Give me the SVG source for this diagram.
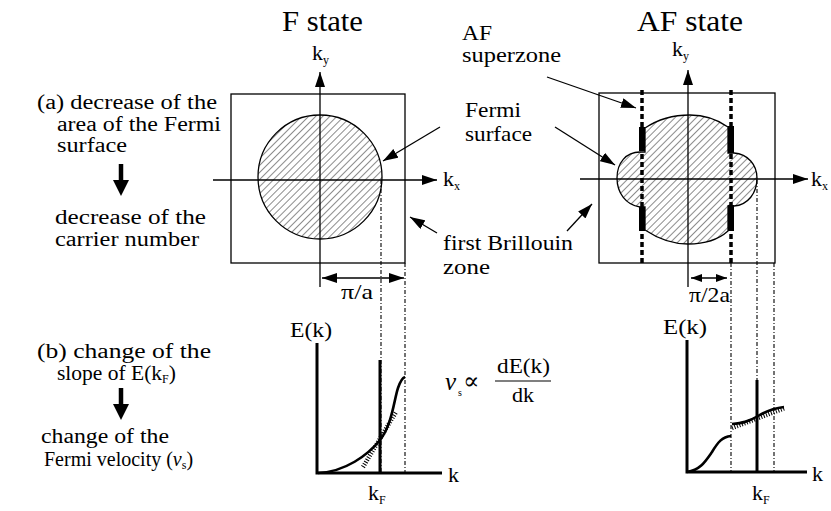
<svg xmlns="http://www.w3.org/2000/svg" width="831" height="511" viewBox="0 0 831 511" font-family="'Liberation Serif', 'Times New Roman', Tinos, 'Noto Serif', 'DejaVu Serif', FreeSerif, serif">
<style>
  text { font-family: 'Liberation Serif', 'Times New Roman', Tinos, 'Noto Serif', 'DejaVu Serif', FreeSerif, serif; fill: #000; }
  .lt { font-size: 20px; }
  .lb { font-size: 21px; }
  .ti { font-size: 29px; }
  .ax { font-size: 22px; }
  .sub { font-size: 12px; }
  .thin { stroke: #000; stroke-width: 1.3; fill: none; }
  .thick { stroke: #000; stroke-width: 3; fill: none; }
  .dd { stroke: #000; stroke-width: 1.1; fill: none; stroke-dasharray: 4 2 1 2; }
  .sz { stroke: #000; stroke-width: 3.5; fill: none; stroke-dasharray: 5 3; }
  .hat { stroke: #000; stroke-width: 4.5; fill: none; stroke-dasharray: 1 1.6; }
  .curve { stroke: #000; stroke-width: 2.6; fill: none; }
</style>
<defs>
  <pattern id="hatch" patternUnits="userSpaceOnUse" width="5" height="5" patternTransform="rotate(45)">
    <line x1="0" y1="0" x2="0" y2="5" stroke="#000" stroke-width="0.9"/>
  </pattern>
  <marker id="ah" markerUnits="userSpaceOnUse" markerWidth="16" markerHeight="10" refX="15" refY="5" orient="auto-start-reverse">
    <path d="M0,0 L15,5 L0,10 z" fill="#000"/>
  </marker>
  <marker id="ahs" markerUnits="userSpaceOnUse" markerWidth="12" markerHeight="8" refX="11" refY="4" orient="auto-start-reverse">
    <path d="M0,0 L11,4 L0,8 z" fill="#000"/>
  </marker>
  <marker id="big" markerUnits="userSpaceOnUse" markerWidth="16" markerHeight="16" refX="0" refY="8" orient="auto">
    <path d="M0,0 L16,8 L0,16 z" fill="#000"/>
  </marker>
</defs>

<!-- Titles -->
<g id="title-f"><text class="ti" x="282" y="31" textLength="81" lengthAdjust="spacingAndGlyphs">F state</text></g>
<g id="title-af"><text class="ti" x="637" y="31" textLength="106" lengthAdjust="spacingAndGlyphs">AF state</text></g>

<!-- Left texts -->
<g id="text-a">
  <text class="lt" x="37" y="109" textLength="180" lengthAdjust="spacingAndGlyphs">(a) decrease of the</text>
  <text class="lt" x="57" y="130.5" textLength="164" lengthAdjust="spacingAndGlyphs">area of the Fermi</text>
  <text class="lt" x="57" y="152" textLength="70" lengthAdjust="spacingAndGlyphs">surface</text>
  <text class="lt" x="55" y="224" textLength="151" lengthAdjust="spacingAndGlyphs">decrease of the</text>
  <text class="lt" x="55" y="246" textLength="144" lengthAdjust="spacingAndGlyphs">carrier number</text>
</g>
<g id="text-b">
  <text class="lt" x="37" y="358" textLength="174" lengthAdjust="spacingAndGlyphs">(b)  change of the</text>
  <text x="57" y="379.5" font-size="21.5">slope of E(k<tspan class="sub" dy="3">F</tspan><tspan dy="-3">)</tspan></text>
  <text class="lt" x="41" y="443" textLength="128" lengthAdjust="spacingAndGlyphs">change of the</text>
  <text x="44" y="466" font-size="20">Fermi velocity (<tspan font-style="italic">ν</tspan><tspan class="sub" dy="3">s</tspan><tspan dy="-3">)</tspan></text>
</g>

<!-- F state Brillouin zone -->
<g id="f-zone">
  <rect x="231" y="94" width="174" height="169" class="thin"/>
  <circle cx="320" cy="177" r="62" fill="url(#hatch)" stroke="#000" stroke-width="1.3"/>
  <text class="ax" x="312" y="60">k<tspan class="sub" dy="4">y</tspan></text>
  <text class="ax" x="443" y="186">k<tspan class="sub" dy="4">x</tspan></text>
</g>

<!-- AF state Brillouin zone -->
<g id="af-zone">
  <rect x="599" y="93" width="176" height="170" class="thin"/>
  <path d="M645,128 C660,118 675,115 690,115 C705,115 718,120 728,127 L728,153 L734,153 C748,154 757,165 757,178 C757,193 748,205 734,206 L728,206 L728,231 C718,240 703,244 688,244 C672,244 657,238 645,230 L645,207 L640,207 C626,205 617,193 617,178 C617,163 626,152 640,152 L645,152 Z" fill="url(#hatch)" stroke="#000" stroke-width="1.3"/>
  <rect x="639" y="127" width="6" height="24" fill="#000"/>
  <rect x="639" y="207" width="6" height="24" fill="#000"/>
  <rect x="728" y="126" width="6" height="27" fill="#000"/>
  <rect x="728" y="205" width="6" height="26" fill="#000"/>
  <line x1="642" y1="90" x2="642" y2="263" class="sz"/>
  <line x1="731" y1="90" x2="731" y2="263" class="sz"/>
  <text class="ax" x="672" y="56">k<tspan class="sub" dy="4">y</tspan></text>
  <text class="ax" x="811" y="186">k<tspan class="sub" dy="4">x</tspan></text>
</g>

<!-- Labels -->
<g id="label-superzone">
  <text class="lb" x="462" y="40" textLength="30" lengthAdjust="spacingAndGlyphs">AF</text>
  <text class="lb" x="462" y="62" textLength="99" lengthAdjust="spacingAndGlyphs">superzone</text>
</g>
<g id="label-fermi">
  <text class="lb" x="465" y="117" textLength="56" lengthAdjust="spacingAndGlyphs">Fermi</text>
  <text class="lb" x="465" y="141" textLength="67" lengthAdjust="spacingAndGlyphs">surface</text>
</g>
<g id="label-bz">
  <text class="lb" x="443" y="250" textLength="130" lengthAdjust="spacingAndGlyphs">first Brillouin</text>
  <text class="lb" x="443" y="274" textLength="47" lengthAdjust="spacingAndGlyphs">zone</text>
</g>
<g id="label-pia"><text class="lb" x="341" y="299" textLength="32" lengthAdjust="spacingAndGlyphs">π/a</text></g>
<g id="label-pi2a"><text class="lb" x="689" y="302" textLength="41" lengthAdjust="spacingAndGlyphs">π/2a</text></g>

<!-- F E(k) plot -->
<g id="f-ek">
  <text class="ax" x="290" y="337" textLength="42" lengthAdjust="spacingAndGlyphs">E(k)</text>
  <text class="ax" x="448" y="482">k</text>
  <text class="ax" x="368" y="500">k<tspan class="sub" dy="4">F</tspan></text>
  <path d="M318,473 C345,472 368,455 380,440 C392,425 394,400 398,388 C400,382 402,378 405,377" class="curve"/>
  <line x1="363" y1="467" x2="396" y2="412" class="hat"/>
</g>

<!-- formula -->
<g id="formula">
  <text x="445" y="390" font-size="25" font-style="italic">ν</text>
  <text x="458" y="396" font-size="10">s</text>
  <text x="463" y="389" font-size="24">∝</text>
  <text class="ax" x="497" y="373" textLength="53" lengthAdjust="spacingAndGlyphs">dE(k)</text>
  <line x1="495" y1="381" x2="551" y2="381" stroke="#000" stroke-width="1.2"/>
  <text class="ax" x="523" y="402" text-anchor="middle">dk</text>
</g>

<!-- AF E(k) plot -->
<g id="af-ek">
  <text class="ax" x="663" y="334" textLength="44" lengthAdjust="spacingAndGlyphs">E(k)</text>
  <text class="ax" x="812" y="481">k</text>
  <text class="ax" x="752" y="500">k<tspan class="sub" dy="4">F</tspan></text>
  <path d="M687,472 C700,470 705,462 712,452 C718,442 722,437 731,436" class="curve"/>
  <path d="M732,424 C742,423 748,422 758,416 C768,410 776,408 784,407" class="curve"/>
  <line x1="732" y1="428" x2="785" y2="408" class="hat"/>
</g>

<!-- Connectors -->
<g id="connectors">
  <line x1="320" y1="287" x2="320" y2="72" class="thin" marker-end="url(#ah)"/>
  <line x1="213" y1="180" x2="437" y2="180" class="thin" marker-end="url(#ah)"/>
  <line x1="688" y1="287" x2="688" y2="70" class="thin" marker-end="url(#ah)"/>
  <line x1="580" y1="179" x2="808" y2="179" class="thin" marker-end="url(#ah)"/>
  <line x1="440" y1="127" x2="383" y2="161" class="thin" stroke-width="1.6" marker-end="url(#ah)"/>
  <line x1="437" y1="233" x2="410" y2="217" class="thin" stroke-width="1.6" marker-end="url(#ah)"/>
  <line x1="547" y1="77" x2="636" y2="108" class="thin" stroke-width="1.6" marker-end="url(#ah)"/>
  <line x1="555" y1="127" x2="615" y2="165" class="thin" stroke-width="1.6" marker-end="url(#ah)"/>
  <line x1="567" y1="231" x2="592" y2="204" class="thin" stroke-width="1.6" marker-end="url(#ah)"/>
  <line x1="322" y1="278" x2="404" y2="278" class="thin" stroke-width="1.6" marker-start="url(#ah)" marker-end="url(#ah)"/>
  <line x1="691" y1="278" x2="727" y2="278" class="thin" stroke-width="1.4" marker-start="url(#ahs)" marker-end="url(#ahs)"/>
  <line x1="381" y1="180" x2="381" y2="473" class="dd"/>
  <line x1="405" y1="263" x2="405" y2="473" class="dd"/>
  <line x1="731" y1="263" x2="731" y2="472" class="dd"/>
  <line x1="757" y1="180" x2="757" y2="472" class="dd"/>
  <line x1="774" y1="263" x2="774" y2="472" class="dd"/>
  <polyline points="317,343 317,473 442,473" class="thick"/>
  <line x1="380" y1="360" x2="380" y2="473" class="thick"/>
  <polyline points="687,340 687,472 807,472" class="thick"/>
  <line x1="757" y1="380" x2="757" y2="472" class="thick"/>
  <line x1="121" y1="164" x2="121" y2="180" stroke="#000" stroke-width="4.5" marker-end="url(#big)"/>
  <line x1="121" y1="388" x2="121" y2="404" stroke="#000" stroke-width="4.5" marker-end="url(#big)"/>
</g>
</svg>
